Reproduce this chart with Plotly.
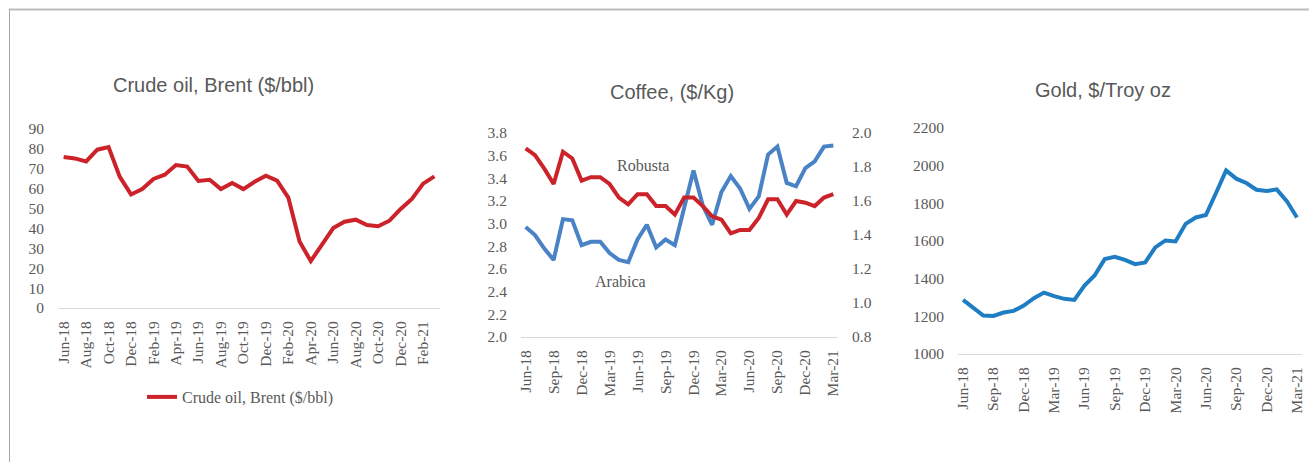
import plotly.graph_objects as go

W, H = 1309, 462

months = ["Jun-18","Jul-18","Aug-18","Sep-18","Oct-18","Nov-18","Dec-18",
          "Jan-19","Feb-19","Mar-19","Apr-19","May-19","Jun-19","Jul-19","Aug-19","Sep-19","Oct-19","Nov-19","Dec-19",
          "Jan-20","Feb-20","Mar-20","Apr-20","May-20","Jun-20","Jul-20","Aug-20","Sep-20","Oct-20","Nov-20","Dec-20",
          "Jan-21","Feb-21","Mar-21"]

brent = [75.9, 75.2, 73.7, 79.6, 80.9, 65.9, 57.1,
         59.8, 64.9, 67.0, 71.9, 71.1, 63.9, 64.5, 59.8, 62.8, 59.8, 63.5, 66.5,
         64.0, 55.5, 33.4, 23.6, 31.7, 40.2, 43.4, 44.4, 41.7, 41.1, 43.9, 49.8,
         54.8, 62.5, 66.2]

arabica = [2.97, 2.90, 2.78, 2.68, 3.04, 3.03, 2.81,
           2.84, 2.84, 2.74, 2.68, 2.66, 2.86, 2.99, 2.79, 2.86, 2.81, 3.13, 3.47,
           3.16, 2.99, 3.28, 3.42, 3.31, 3.13, 3.24, 3.61, 3.68, 3.36, 3.33, 3.49,
           3.55, 3.68, 3.69]

robusta = [1.91, 1.87, 1.79, 1.70, 1.89, 1.85, 1.72,
           1.74, 1.74, 1.70, 1.62, 1.58, 1.64, 1.64, 1.57, 1.57, 1.52, 1.62, 1.62,
           1.57, 1.51, 1.49, 1.41, 1.43, 1.43, 1.50, 1.61, 1.61, 1.52, 1.60, 1.59,
           1.57, 1.62, 1.64]

gold = [1287, 1243, 1204, 1202, 1220, 1229, 1257,
        1296, 1326, 1307, 1293, 1287, 1363, 1417, 1504, 1516, 1500, 1477, 1486,
        1566, 1603, 1598, 1691, 1725, 1738, 1855, 1975, 1931, 1908, 1872, 1865,
        1874, 1812, 1725]

ticks_2m = months[0:33:2]
ticks_3m = months[0::3]

titles = ["Crude oil, Brent ($/bbl)", "Coffee, ($/Kg)", "Gold, $/Troy oz"]
legend_name = "Crude oil, Brent ($/bbl)"

GREY = "#595959"
SERIF = "Liberation Serif, Times New Roman, serif"
SANS = "Liberation Sans, Arial, sans-serif"


def px_x(a, b):
    return [a / W, b / W]


def px_y(top, bottom):
    return [1 - bottom / H, 1 - top / H]


fig = go.Figure()

fig.add_trace(go.Scatter(x=months, y=brent, mode="lines", name=legend_name,
                         line=dict(color="#cc2229", width=4),
                         xaxis="x", yaxis="y", showlegend=True))
fig.add_trace(go.Scatter(x=months, y=arabica, mode="lines", name="Arabica",
                         line=dict(color="#4a82c6", width=4),
                         xaxis="x2", yaxis="y2", showlegend=False))
fig.add_trace(go.Scatter(x=months, y=robusta, mode="lines", name="Robusta",
                         line=dict(color="#cc2229", width=4),
                         xaxis="x2", yaxis="y3", showlegend=False))
fig.add_trace(go.Scatter(x=months, y=gold, mode="lines", name="Gold",
                         line=dict(color="#1f7dc4", width=4),
                         xaxis="x3", yaxis="y4", showlegend=False))

tickfont = dict(family=SERIF, size=15.5, color=GREY)


def xaxis(domain, anchor, tickvals):
    return dict(domain=domain, anchor=anchor, type="category", categoryarray=months,
                range=[-0.5, 33.5], tickvals=tickvals, ticktext=tickvals,
                tickangle=-90, tickfont=tickfont, showgrid=False, zeroline=False,
                showline=True, linecolor="#d9d9d9", linewidth=1, automargin=False,
                ticks="outside", ticklen=6, tickcolor="rgba(0,0,0,0)")


def yaxis(domain, anchor, rng, dtick, fmt, side="left", overlaying=None):
    d = dict(domain=domain, anchor=anchor, range=rng, dtick=dtick, tick0=rng[0],
             tickformat=fmt, tickfont=tickfont, showgrid=False, zeroline=False,
             showline=False, side=side, ticks="outside", ticklen=10, automargin=False,
             tickcolor="rgba(0,0,0,0)")
    if overlaying:
        d["overlaying"] = overlaying
    return d


fig.update_layout(
    width=W, height=H,
    margin=dict(l=0, r=0, t=0, b=0, pad=0, autoexpand=False),
    paper_bgcolor="white", plot_bgcolor="white",
    xaxis=xaxis(px_x(58, 440), "y", ticks_2m),
    yaxis=yaxis(px_y(129, 308), "x", [0, 90], 10, "d"),
    xaxis2=xaxis(px_x(521, 838), "y2", ticks_3m),
    yaxis2=yaxis(px_y(133, 337), "x2", [2.0, 3.8], 0.2, ".1f"),
    yaxis3=yaxis(px_y(133, 337), "x2", [0.8, 2.0], 0.2, ".1f", side="right", overlaying="y2"),
    xaxis3=xaxis(px_x(958, 1302), "y4", ticks_3m),
    yaxis4=yaxis(px_y(128, 354), "x3", [1000, 2200], 200, "d"),
    legend=dict(x=142 / W, y=1 - 397 / H, xanchor="left", yanchor="middle",
                font=dict(family=SERIF, size=16, color=GREY),
                bgcolor="rgba(0,0,0,0)", itemwidth=30),
    showlegend=True,
)

title_pos = [(213, 85), (672, 92), (1103, 90)]
for t, (cx, cy) in zip(titles, title_pos):
    fig.add_annotation(text=t, x=cx / W, y=1 - cy / H, xref="paper", yref="paper",
                       showarrow=False, xanchor="center", yanchor="middle",
                       font=dict(family=SANS, size=20, color=GREY))

fig.add_annotation(text="Robusta", x=643 / W, y=1 - 165 / H, xref="paper", yref="paper",
                   showarrow=False, font=dict(family=SERIF, size=16, color=GREY))
fig.add_annotation(text="Arabica", x=620 / W, y=1 - 281 / H, xref="paper", yref="paper",
                   showarrow=False, font=dict(family=SERIF, size=16, color=GREY))

# outer frame lines (top and left)
fig.add_shape(type="line", xref="paper", yref="paper", x0=9 / W, x1=1, y0=1 - 9.5 / H, y1=1 - 9.5 / H,
              line=dict(color="#bdbdbd", width=2))
fig.add_shape(type="line", xref="paper", yref="paper", x0=9.5 / W, x1=9.5 / W, y0=0, y1=1 - 9 / H,
              line=dict(color="#a6a6a6", width=1))

fig.write_html("out.html", config={"displayModeBar": False},
               post_script="document.body.style.margin='0';document.body.style.overflow='hidden';")
